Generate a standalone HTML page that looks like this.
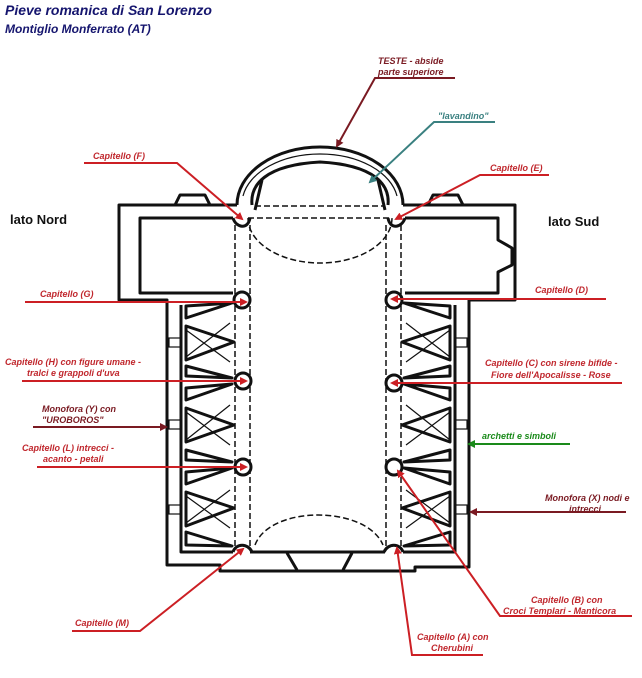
<!DOCTYPE html>
<html><head><meta charset="utf-8"><style>
html,body{margin:0;padding:0;background:#fff;}
svg{display:block;}
text{font-family:"Liberation Sans",Arial,sans-serif;font-weight:bold;font-style:italic;}
.r{fill:#c0272d;font-size:9px;}
.dr{fill:#7a1a22;font-size:9px;}
.w{fill:none;stroke:#111;stroke-width:3;stroke-linejoin:round;}
.t{fill:none;stroke:#111;stroke-width:1.2;}
.d{fill:none;stroke:#111;stroke-width:1.5;stroke-dasharray:6 3;}
.l{fill:none;stroke:#cc1f24;stroke-width:2;}
</style></head><body>
<svg width="642" height="678" viewBox="0 0 642 678" xmlns="http://www.w3.org/2000/svg">
<defs>
<marker id="ar" markerWidth="8" markerHeight="8" refX="6" refY="4" orient="auto" markerUnits="userSpaceOnUse"><path d="M0,0 L8,4 L0,8 Z" fill="#cc1f24"/></marker>
<marker id="ad" markerWidth="8" markerHeight="8" refX="6" refY="4" orient="auto" markerUnits="userSpaceOnUse"><path d="M0,0 L8,4 L0,8 Z" fill="#7a1a22"/></marker>
<marker id="ag" markerWidth="8" markerHeight="8" refX="6" refY="4" orient="auto" markerUnits="userSpaceOnUse"><path d="M0,0 L8,4 L0,8 Z" fill="#1a8a1a"/></marker>
<marker id="at" markerWidth="8" markerHeight="8" refX="6" refY="4" orient="auto" markerUnits="userSpaceOnUse"><path d="M0,0 L8,4 L0,8 Z" fill="#3a8080"/></marker>
</defs>
<text x="5" y="15" style="fill:#15156e;font-size:14px">Pieve romanica di San Lorenzo</text>
<text x="5" y="33" style="fill:#15156e;font-size:12px">Montiglio Monferrato (AT)</text>
<text x="10" y="224" style="fill:#111;font-size:13px;font-style:normal">lato Nord</text>
<text x="548" y="226" style="fill:#111;font-size:13px;font-style:normal">lato Sud</text>

<!-- Apse -->
<path class="w" d="M237,205 A83,58 0 0 1 403,205"/>
<path class="w" d="M252,205 C250,185 265,165 320,162 C375,165 390,185 388,205"/>
<path class="t" d="M243,196 A78,50 0 0 1 397,196"/>
<path class="w" d="M255,210 L262,180 M385,210 L378,180"/>
<path class="d" d="M255,206 L385,206 M248,218 L392,218"/>
<path class="d" d="M248,218 A72,45 0 0 0 392,218"/>
<!-- Transept -->
<path class="w" d="M237,205 L119,205 L119,300 L167,300 L167,565 L220,565 L220,571 L415,571 L415,567 L469,567 L469,300 L515,300 L515,205 L403,205"/>
<path class="w" d="M233,218 L140,218 L140,293 L233,293"/>
<path class="w" d="M405,218 L498,218 L498,240 L512,248 L512,265 L498,272 L498,293 L405,293"/>
<path class="w" d="M175,205 L180,195 L205,195 L210,205"/>
<path class="w" d="M428,205 L433,195 L458,195 L463,205"/>
<!-- capitals E F -->
<path class="w" d="M233,218 C236,228 248,230 250,218 M405,218 C402,228 390,230 388,218"/>
<!-- nave dashed -->
<path class="d" d="M235,225 L235,548 M250,225 L250,548 M386,225 L386,548 M401,225 L401,548"/>
<!-- aisle walls -->
<path class="w" d="M181,305 L181,552 L233,552 M455,305 L455,552 L403,552"/>
<path class="w" d="M250,552 L385,552"/>
<path class="w" d="M287,553 L297,570 M352,553 L343,570"/>
<path class="d" d="M255,545 C270,505 366,505 383,545"/>
<!-- bays -->
<g id="L">
<path class="w" d="M186,306 L232,303 L186,318 Z"/>
<path class="w" d="M186,326 L234,342 L186,360 Z"/>
<path class="t" d="M186,330 L230,362 M186,357 L230,323"/>
<path class="w" d="M186,366 L232,378 L186,376 Z"/>
<path class="w" d="M186,388 L232,384 L186,400 Z"/>
<path class="w" d="M186,408 L234,425 L186,442 Z"/>
<path class="t" d="M186,412 L230,445 M186,440 L230,405"/>
<path class="w" d="M186,450 L232,462 L186,460 Z"/>
<path class="w" d="M186,472 L232,468 L186,484 Z"/>
<path class="w" d="M186,492 L234,508 L186,526 Z"/>
<path class="t" d="M186,496 L230,528 M186,523 L230,490"/>
<path class="w" d="M186,532 L232,546 L186,545 Z"/>
<rect x="169" y="338" width="12" height="9" class="t"/>
<rect x="169" y="420" width="12" height="9" class="t"/>
<rect x="169" y="505" width="12" height="9" class="t"/>
</g>
<use href="#L" transform="translate(636,0) scale(-1,1)"/>
<!-- pillars -->
<g fill="#fff" stroke="#111" stroke-width="3">
<ellipse cx="242" cy="300" rx="8" ry="8"/><ellipse cx="394" cy="300" rx="8" ry="8"/>
<ellipse cx="243" cy="381" rx="8" ry="8"/><ellipse cx="394" cy="383" rx="8" ry="8"/>
<ellipse cx="243" cy="467" rx="8" ry="8"/><ellipse cx="394" cy="467" rx="8" ry="8"/>
</g>
<path class="w" d="M233,552 C236,543 248,543 252,552 M403,552 C400,543 388,543 384,552"/>

<!-- labels -->
<text x="378" y="64" class="dr">TESTE - abside</text>
<text x="378" y="75" class="dr">parte superiore</text>
<path d="M455,78 L375,78 L337,146" fill="none" stroke="#7a1a22" stroke-width="2" marker-end="url(#ad)"/>
<text x="438" y="119" style="fill:#3a8080;font-size:9px">"lavandino"</text>
<path d="M495,122 L434,122 L370,182" fill="none" stroke="#3a8080" stroke-width="2" marker-end="url(#at)"/>
<text x="93" y="159" class="r">Capitello (F)</text>
<path class="l" d="M84,163 L177,163 L242,219" marker-end="url(#ar)"/>
<text x="490" y="171" class="r">Capitello (E)</text>
<path class="l" d="M549,175 L480,175 L396,219" marker-end="url(#ar)"/>
<text x="40" y="297" class="r">Capitello (G)</text>
<path class="l" d="M25,302 L246,302" marker-end="url(#ar)"/>
<text x="535" y="293" class="r">Capitello (D)</text>
<path class="l" d="M606,299 L392,299" marker-end="url(#ar)"/>
<text x="5" y="365" class="r">Capitello (H) con figure umane -</text>
<text x="27" y="376" class="r">tralci e grappoli d'uva</text>
<path class="l" d="M22,381 L246,381" marker-end="url(#ar)"/>
<text x="485" y="366" class="r">Capitello (C) con sirene bifide -</text>
<text x="491" y="378" class="r">Fiore dell'Apocalisse - Rose</text>
<path class="l" d="M622,383 L392,383" marker-end="url(#ar)"/>
<text x="42" y="412" class="dr">Monofora (Y) con</text>
<text x="42" y="423" class="dr">"UROBOROS"</text>
<path d="M33,427 L166,427" fill="none" stroke="#7a1a22" stroke-width="2" marker-end="url(#ad)"/>
<text x="482" y="439" style="fill:#1a8a1a;font-size:9px">archetti e simboli</text>
<path d="M570,444 L469,444" fill="none" stroke="#1a8a1a" stroke-width="2" marker-end="url(#ag)"/>
<text x="22" y="451" class="r">Capitello (L) intrecci -</text>
<text x="43" y="462" class="r">acanto - petali</text>
<path class="l" d="M37,467 L246,467" marker-end="url(#ar)"/>
<text x="545" y="501" class="dr">Monofora (X) nodi e</text>
<text x="569" y="512" class="dr">intrecci</text>
<path d="M626,512 L471,512" fill="none" stroke="#7a1a22" stroke-width="2" marker-end="url(#ad)"/>
<text x="531" y="603" class="r">Capitello (B) con</text>
<text x="503" y="614" class="r">Croci Templari - Manticora</text>
<path class="l" d="M632,616 L500,616 L398,471" marker-end="url(#ar)"/>
<text x="417" y="640" class="r">Capitello (A) con</text>
<text x="431" y="651" class="r">Cherubini</text>
<path class="l" d="M483,655 L412,655 L397,548" marker-end="url(#ar)"/>
<text x="75" y="626" class="r">Capitello (M)</text>
<path class="l" d="M72,631 L140,631 L243,549" marker-end="url(#ar)"/>
</svg>
</body></html>
